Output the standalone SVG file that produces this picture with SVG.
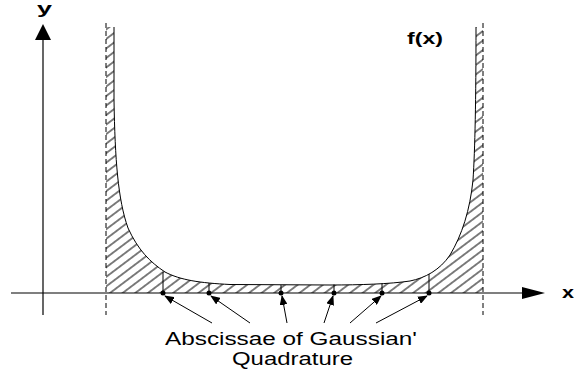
<svg xmlns="http://www.w3.org/2000/svg" width="574" height="374" viewBox="0 0 574 374">
<style>
.ax{stroke:#000;stroke-width:1.2;fill:none}
.dash{stroke:#000;stroke-width:1;stroke-dasharray:5 3;fill:none}
.crv{stroke:#000;stroke-width:1;fill:none}
.vl{stroke:#000;stroke-width:1}
.con{stroke:#000;stroke-width:1;fill:none;marker-end:url(#ah)}
.lbl{font-family:"Liberation Sans",Arial,sans-serif;fill:#000}
.b{font-weight:bold}
</style>
<defs>
<pattern id="hatch" patternUnits="userSpaceOnUse" width="10" height="7.6" patternTransform="rotate(-37)">
<line x1="-1" y1="3.8" x2="11" y2="3.8" stroke="#000" stroke-width="1"/>
</pattern>
<marker id="ah" markerUnits="userSpaceOnUse" markerWidth="10" markerHeight="8" refX="9" refY="4" orient="auto">
<path d="M0,0 L10,4 L0,8 Z" fill="#000"/>
</marker>
</defs>
<g id="region">
<path d="M106,27 L114,27 L114,100 C115,160 118,200 128,228 C138,250 150,262 165,272 C180,280 200,283 230,284.5 L330,285 C360,285 390,284 410,281 C425,278 440,270 450,255 C462,235 470,210 473,180 C475,150 476,100 476,27 L483,27 L483,293 L106,293 Z" fill="url(#hatch)" stroke="none"/>
</g>
<g id="curve">
<path class="crv" d="M114,27 L114,100 C115,160 118,200 128,228 C138,250 150,262 165,272 C180,280 200,283 230,284.5 L330,285 C360,285 390,284 410,281 C425,278 440,270 450,255 C462,235 470,210 473,180 C475,150 476,100 476,27"/>
</g>
<g id="bounds">
<line class="dash" x1="106" y1="23" x2="106" y2="315"/>
<line class="dash" x1="483" y1="23" x2="483" y2="315"/>
</g>
<g id="y-axis">
<line class="ax" x1="43" y1="315" x2="43" y2="38"/>
<path d="M43,24 L51,40 L35,40 Z" fill="#000"/>
<text class="lbl b" x="44.5" y="14" font-size="16" text-anchor="middle" textLength="15" lengthAdjust="spacingAndGlyphs">y</text>
</g>
<g id="x-axis">
<line class="ax" x1="11" y1="293" x2="524" y2="293"/>
<path d="M545,293 L522,287 L522,299 Z" fill="#000"/>
<text class="lbl b" x="562" y="298" font-size="16" textLength="12" lengthAdjust="spacingAndGlyphs">x</text>
</g>
<g id="fx-label">
<text class="lbl b" x="407" y="44" font-size="17" textLength="36" lengthAdjust="spacingAndGlyphs">f(x)</text>
</g>
<g id="p1"><line class="vl" x1="163" y1="272" x2="163" y2="293"/><circle cx="163" cy="293" r="2.5"/></g>
<g id="p2"><line class="vl" x1="209" y1="283" x2="209" y2="293"/><circle cx="209" cy="293" r="2.5"/></g>
<g id="p3"><line class="vl" x1="281" y1="285" x2="281" y2="293"/><circle cx="281" cy="293" r="2.5"/></g>
<g id="p4"><line class="vl" x1="334" y1="284.5" x2="334" y2="293"/><circle cx="334" cy="293" r="2.5"/></g>
<g id="p5"><line class="vl" x1="382" y1="283.5" x2="382" y2="293"/><circle cx="382" cy="293" r="2.5"/></g>
<g id="p6"><line class="vl" x1="429" y1="274" x2="429" y2="293"/><circle cx="429" cy="293" r="2.5"/></g>
<g id="connectors">
<line class="con" x1="212" y1="323" x2="165" y2="296"/>
<line class="con" x1="250" y1="323" x2="211" y2="296"/>
<line class="con" x1="287" y1="323" x2="282" y2="296"/>
<line class="con" x1="324" y1="323" x2="333" y2="296"/>
<line class="con" x1="350" y1="323" x2="381" y2="296"/>
<line class="con" x1="376" y1="323" x2="427" y2="296"/>
</g>
<g id="caption">
<text class="lbl" x="165" y="345" font-size="17.5" textLength="252" lengthAdjust="spacingAndGlyphs">Abscissae of Gaussian'</text>
<text class="lbl" x="232" y="365" font-size="17.5" textLength="121" lengthAdjust="spacingAndGlyphs">Quadrature</text>
</g>
</svg>
